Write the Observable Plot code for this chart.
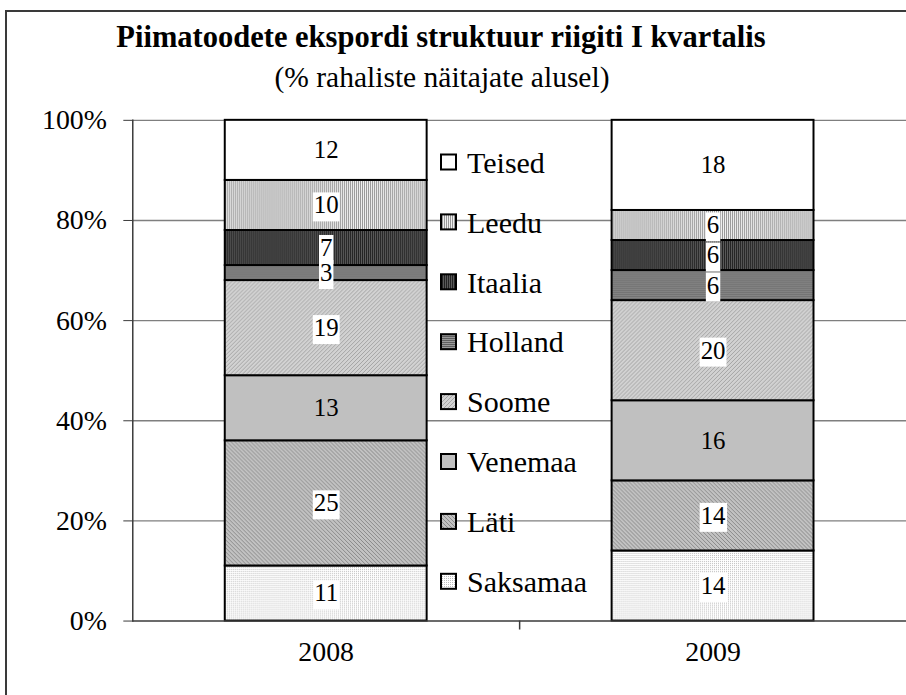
<!DOCTYPE html>
<html><head><meta charset="utf-8">
<script src="https://cdn.jsdelivr.net/npm/d3@7"></script>
<script src="https://cdn.jsdelivr.net/npm/@observablehq/plot@0.6"></script>
<style>
body{margin:0;background:#fff;}
#wrap{position:relative;width:906px;height:695px;overflow:hidden;background:#fff;}
#frame{position:absolute;left:5px;top:10px;width:950px;height:750px;border-left:2px solid #3a3a3a;border-top:2px solid #3a3a3a;}
#wrap svg{position:absolute;left:0;top:0;}
</style></head><body><div id="wrap"><div id="frame"></div></div>
<script>
// ---- data ----
const years = ["2008", "2009"];
const countries = ["Saksamaa", "Läti", "Venemaa", "Soome", "Holland", "Itaalia", "Leedu", "Teised"];
const values2008 = [11, 25, 13, 19, 3, 7, 10, 12];
const values2009 = [14, 14, 16, 20, 6, 6, 6, 18];
const yTicks = [0, 20, 40, 60, 80, 100];
const titleText = "Piimatoodete ekspordi struktuur riigiti I kvartalis";
const subtitleText = "(% rahaliste näitajate alusel)";
const solidFill = ["Venemaa"]; // label without white box

const FONT = "'Liberation Serif','Times New Roman',serif";
const valuesByYear = {"2008": values2008, "2009": values2009};
const rows = [];
for (const yr of years) {
  let acc = 0;
  countries.forEach((c, i) => {
    const v = valuesByYear[yr][i];
    rows.push({year: yr, country: c, value: v, mid: acc + v / 2});
    acc += v;
  });
}

// ---- overlay svg with pattern defs, title, legend ----
const wrap = document.getElementById("wrap");
const overlay = d3.create("svg").attr("width", 906).attr("height", 695)
  .style("pointer-events", "none").style("font-family", FONT);
const defs = overlay.append("defs");
function pat(id, w, h, cells) {
  const p = defs.append("pattern").attr("id", id).attr("patternUnits", "userSpaceOnUse")
    .attr("width", w).attr("height", h);
  cells.forEach(([x, y, cw, ch, col]) => p.append("rect").attr("x", x).attr("y", y)
    .attr("width", cw).attr("height", ch).attr("fill", col).attr("shape-rendering", "crispEdges"));
}
pat("pat0", 2, 2, [[0,0,2,2,"#ffffff"],[0,0,1,1,"#bdbdbd"]]);
pat("pat1", 4, 4, [[0,0,4,4,"#c2c2c2"],[0,0,1,1,"#8a8a8a"],[1,1,1,1,"#8a8a8a"],[2,2,1,1,"#8a8a8a"],[3,3,1,1,"#8a8a8a"]]);
pat("pat2", 4, 4, [[0,0,4,4,"#c0c0c0"]]);
pat("pat3", 4, 4, [[0,0,4,4,"#d2d2d2"],[3,0,1,1,"#a4a4a4"],[2,1,1,1,"#a4a4a4"],[1,2,1,1,"#a4a4a4"],[0,3,1,1,"#a4a4a4"]]);
pat("pat4", 2, 2, [[0,0,2,1,"#5e5e5e"],[0,1,2,1,"#999999"]]);
pat("pat5", 2, 2, [[0,0,1,2,"#232323"],[1,0,1,2,"#5a5a5a"]]);
pat("pat6", 2, 2, [[0,0,1,2,"#999999"],[1,0,1,2,"#f0f0f0"]]);
pat("pat7", 2, 2, [[0,0,2,2,"#ffffff"]]);

// ---- chart ----
const W = 911, pInner = 0.478, pOuter = 0.239;
const xScale = Plot.scale({x: {type: "band", domain: years, range: [133, W], paddingInner: pInner, paddingOuter: pOuter}});
const step = xScale.step;

const chart = Plot.plot({
  width: W, height: 695,
  marginLeft: 133, marginRight: 0, marginTop: 120.5, marginBottom: 71,
  style: {fontFamily: FONT, fontSize: "28px", color: "#000", background: "transparent", overflow: "visible"},
  x: {domain: years, paddingInner: pInner, paddingOuter: pOuter, label: null},
  y: {domain: [0, 100], label: null},
  color: {type: "ordinal", domain: countries, range: countries.map((c, i) => `url(#pat${i})`)},
  marks: [
    Plot.gridY(yTicks.filter(d => d > 0), {stroke: "#7f7f7f", strokeOpacity: 1, strokeWidth: 1.4}),
    Plot.barY(rows, {x: "year", y: "value", fill: "country", stroke: "#000", strokeWidth: 2}),
    Plot.text(rows.filter(d => !solidFill.includes(d.country)), {x: "year", y: "mid", text: "value", fontSize: 25, fill: "#000"}),
    Plot.text(rows.filter(d => solidFill.includes(d.country)), {x: "year", y: "mid", text: "value", fontSize: 25, fill: "#000"}),
    Plot.ruleY([0], {stroke: "#3a3a3a", strokeWidth: 1.5}),
    Plot.frame({anchor: "left", stroke: "#3a3a3a", strokeWidth: 1.5}),
    Plot.ruleX(years.slice(1), {x: d => d, dx: -step / 2, y1: 0, y2: 0, insetTop: 0, insetBottom: -9, stroke: "#3a3a3a", strokeWidth: 1.5}),
    Plot.axisY(yTicks, {tickSize: 9, tickPadding: 17, tickFormat: d => d + "%", stroke: "#3a3a3a", fontSize: 28, label: null}),
    Plot.axisX({tickSize: 0, tickPadding: 20, fontSize: 28, label: null})
  ]
});
wrap.append(chart);

// white boxes behind the labels of patterned segments
const textGroups = chart.querySelectorAll('g[aria-label="text"]');
if (textGroups.length) {
  textGroups[0].querySelectorAll("text").forEach(t => {
    const b = t.getBBox();
    const r = document.createElementNS("http://www.w3.org/2000/svg", "rect");
    r.setAttribute("x", b.x - 1); r.setAttribute("y", b.y + 1);
    r.setAttribute("width", b.width + 2); r.setAttribute("height", b.height + 2);
    r.setAttribute("fill", "#fff");
    if (t.getAttribute("transform")) r.setAttribute("transform", t.getAttribute("transform"));
    t.parentNode.insertBefore(r, t);
  });
}

// title + subtitle
overlay.append("text").attr("x", 441).attr("y", 47).attr("text-anchor", "middle")
  .attr("font-weight", "bold").attr("font-size", 30.5).text(titleText);
overlay.append("text").attr("x", 442).attr("y", 87).attr("text-anchor", "middle")
  .attr("font-size", 29.5).text(subtitleText);

// legend (top entry = last series)
const legendItems = countries.map((c, i) => ({c, i})).reverse();
const lg = overlay.append("g");
legendItems.forEach((d, k) => {
  const cy = 162.5 + k * 59.9;
  lg.append("rect").attr("x", 441).attr("y", cy - 8).attr("width", 15).attr("height", 15)
    .attr("fill", `url(#pat${d.i})`).attr("stroke", "#000").attr("stroke-width", 2);
  lg.append("text").attr("x", 467).attr("y", cy).attr("dy", "0.34em")
    .attr("font-size", 30).text(d.c);
});
wrap.append(overlay.node());
</script>
</body></html>
